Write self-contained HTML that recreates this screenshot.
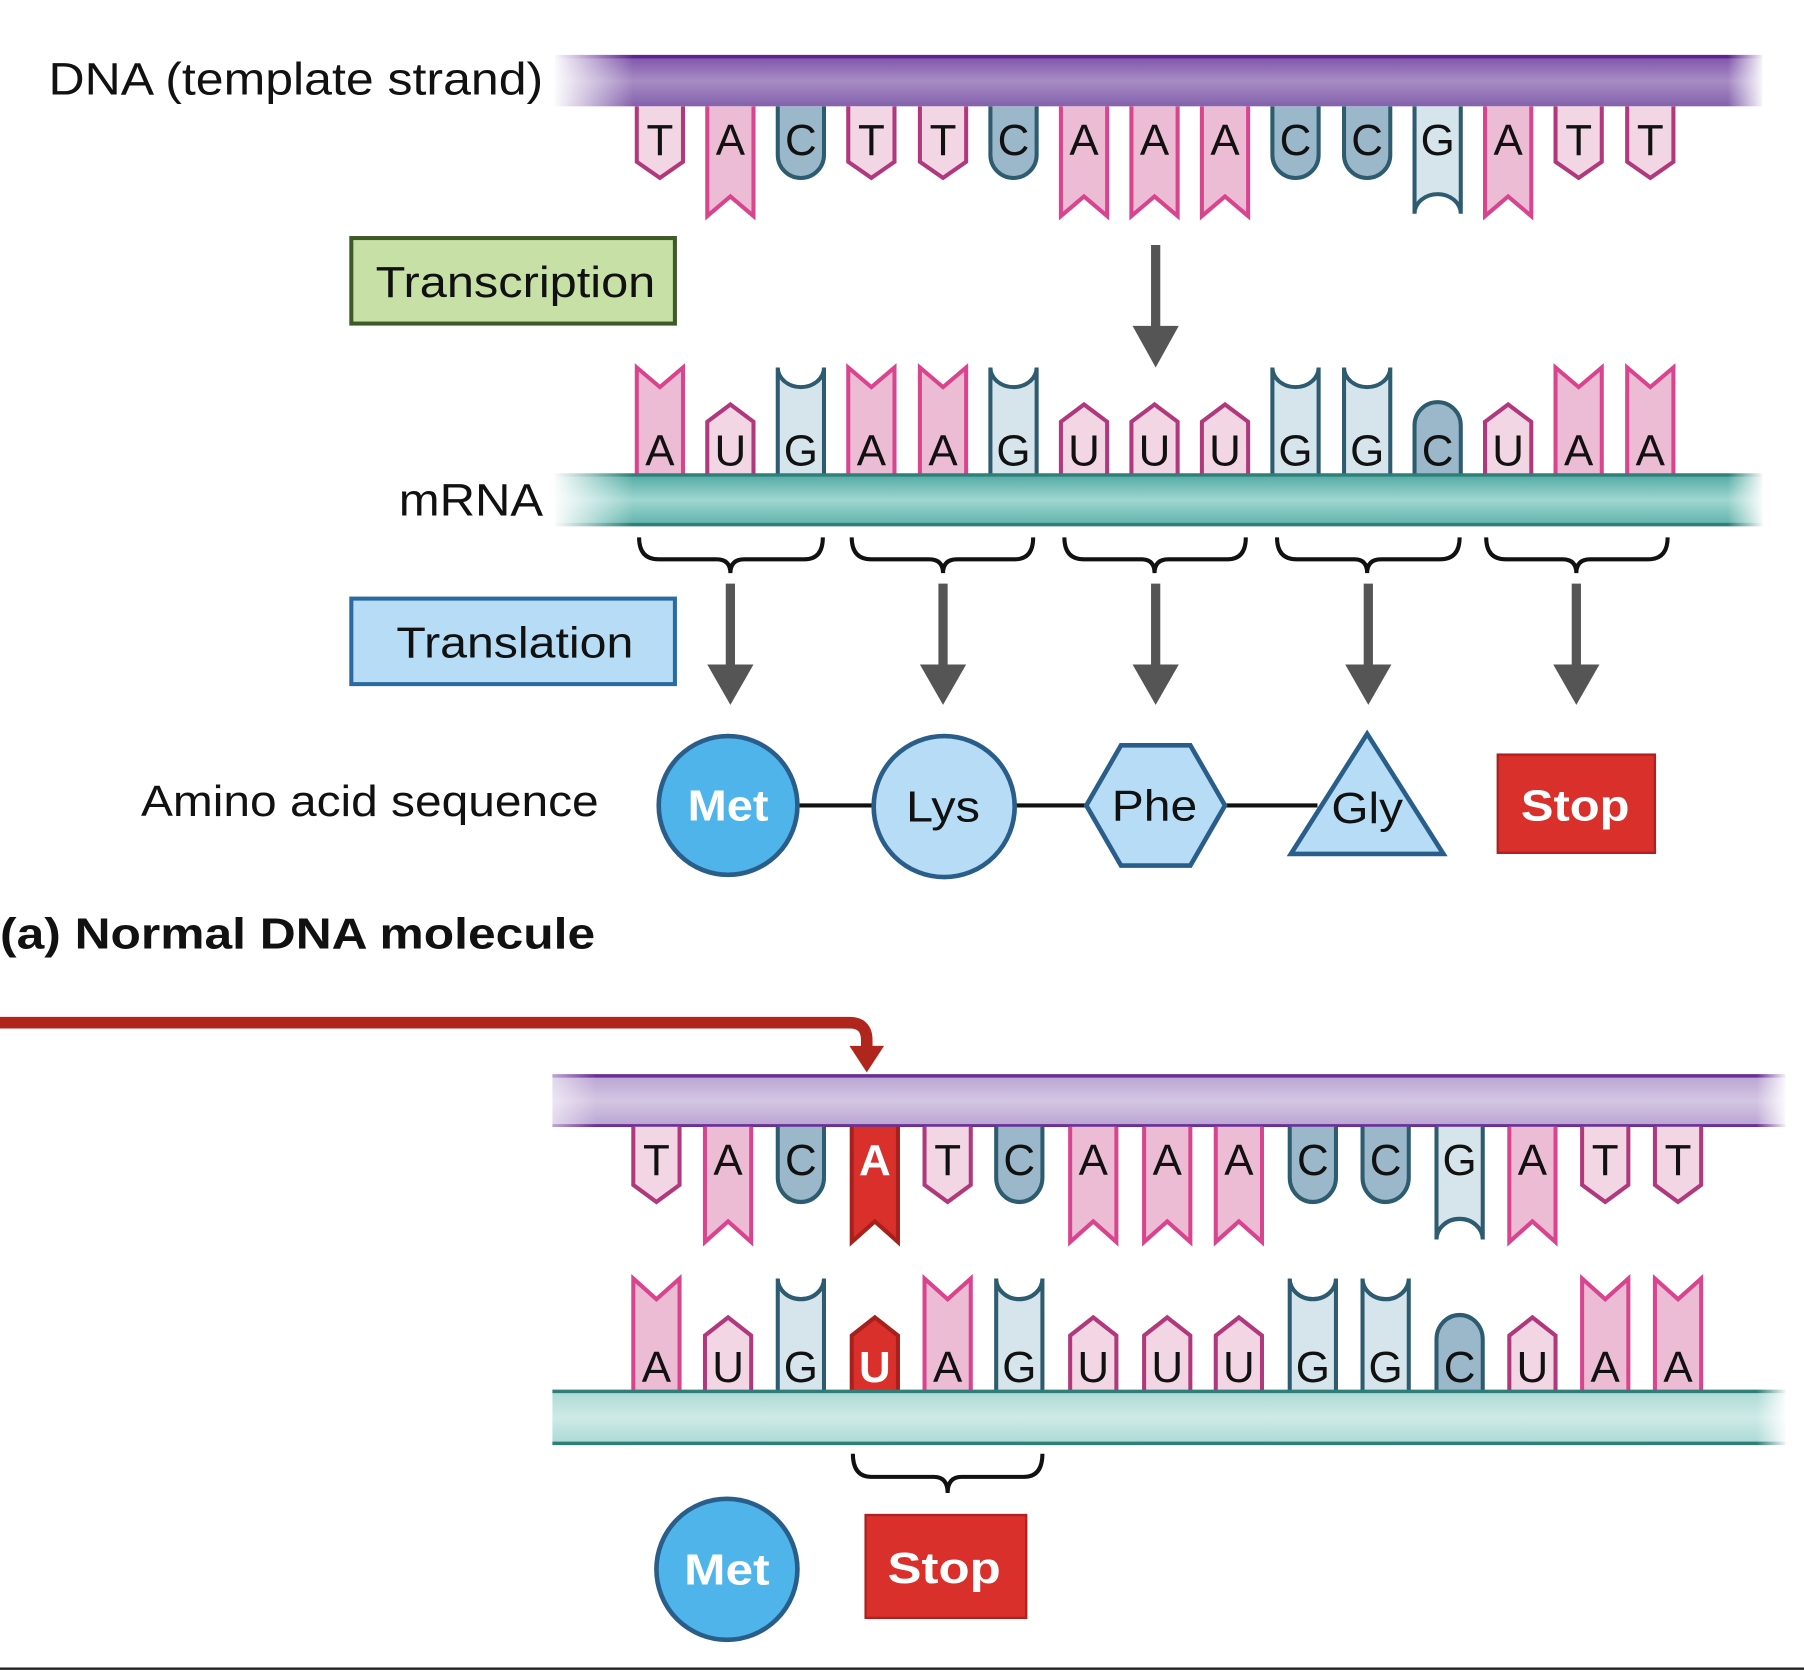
<!DOCTYPE html>
<html><head><meta charset="utf-8"><style>
html,body{margin:0;padding:0;background:#fff;}
svg{display:block;}
text{font-family:"Liberation Sans",sans-serif;}
</style></head><body>
<svg width="1804" height="1671" viewBox="0 0 1561 1446" preserveAspectRatio="none" xmlns="http://www.w3.org/2000/svg">
<defs>
<linearGradient id="pv" x1="0" y1="0" x2="0" y2="1"><stop offset="0" stop-color="#7d52a8"/><stop offset="0.5" stop-color="#a78cc4"/><stop offset="1" stop-color="#8462ad"/></linearGradient>
<linearGradient id="pv2" x1="0" y1="0" x2="0" y2="1"><stop offset="0" stop-color="#b9a3d2"/><stop offset="0.5" stop-color="#d4c6e3"/><stop offset="1" stop-color="#b9a3d2"/></linearGradient>
<linearGradient id="tv" x1="0" y1="0" x2="0" y2="1"><stop offset="0" stop-color="#4fa9a2"/><stop offset="0.5" stop-color="#9fd6d0"/><stop offset="1" stop-color="#5db2aa"/></linearGradient>
<linearGradient id="tv2" x1="0" y1="0" x2="0" y2="1"><stop offset="0" stop-color="#a9d9d4"/><stop offset="0.5" stop-color="#cfeae7"/><stop offset="1" stop-color="#a9d9d4"/></linearGradient>
<linearGradient id="fadeL" x1="0" y1="0" x2="1" y2="0"><stop offset="0" stop-color="#fff" stop-opacity="1"/><stop offset="1" stop-color="#fff" stop-opacity="0"/></linearGradient>
<linearGradient id="fadeR" x1="0" y1="0" x2="1" y2="0"><stop offset="0" stop-color="#fff" stop-opacity="0"/><stop offset="1" stop-color="#fff" stop-opacity="1"/></linearGradient>
<g id="Td"><path d="M-20,0 V48 L0,62 L20,48 V0" fill="#f3d6e3" stroke="#b0387c" stroke-width="3.5"/></g>
<g id="Ad"><path d="M-20,0 V95 L0,78 L20,95 V0" fill="#ecbcd4" stroke="#d9448f" stroke-width="3.5"/></g>
<g id="Cd"><path d="M-20,0 V42 A20,20 0 0 0 20,42 V0" fill="#9bb8ca" stroke="#2d5b6f" stroke-width="3.5"/></g>
<g id="Gd"><path d="M-20,0 V93 A20,17 0 0 1 20,93 V0" fill="#d6e4eb" stroke="#2d5b6f" stroke-width="3.5"/></g>
<g id="Ar"><path d="M-20,0 V95 L0,78 L20,95 V0" fill="#d9302c" stroke="#a8201c" stroke-width="3.5"/></g>
<g id="Au"><path d="M-20,0 V-92 L0,-75 L20,-92 V0" fill="#ecbcd4" stroke="#d9448f" stroke-width="3.5"/></g>
<g id="Uu"><path d="M-20,0 V-45 L0,-60 L20,-45 V0" fill="#f3d6e3" stroke="#b0387c" stroke-width="3.5"/></g>
<g id="Gu"><path d="M-20,0 V-92 A20,17 0 0 0 20,-92 V0" fill="#d6e4eb" stroke="#2d5b6f" stroke-width="3.5"/></g>
<g id="Cu"><path d="M-20,0 V-42 A20,20 0 0 1 20,-42 V0" fill="#9bb8ca" stroke="#2d5b6f" stroke-width="3.5"/></g>
<g id="Ur"><path d="M-20,0 V-45 L0,-60 L20,-45 V0" fill="#d9302c" stroke="#a8201c" stroke-width="3.5"/></g>
</defs>

<!-- TOP DNA bar -->
<rect x="480" y="48" width="1045" height="44" fill="url(#pv)"/>
<line x1="480" y1="49" x2="1525" y2="49" stroke="#5e2590" stroke-width="3"/>
<rect x="478" y="46" width="70" height="48" fill="url(#fadeL)"/>
<rect x="1495" y="46" width="32" height="48" fill="url(#fadeR)"/>

<g transform="translate(0,92)">
<use href="#Td" x="571"/><use href="#Ad" x="632"/><use href="#Cd" x="693"/><use href="#Td" x="754"/><use href="#Td" x="816"/><use href="#Cd" x="877"/><use href="#Ad" x="938"/><use href="#Ad" x="999"/><use href="#Ad" x="1060"/><use href="#Cd" x="1121"/><use href="#Cd" x="1183"/><use href="#Gd" x="1244"/><use href="#Ad" x="1305"/><use href="#Td" x="1366"/><use href="#Td" x="1428"/>
</g>
<g font-size="38" text-anchor="middle" fill="#111">
<text x="571" y="134">T</text><text x="632" y="134">A</text><text x="693" y="134">C</text><text x="754" y="134">T</text><text x="816" y="134">T</text><text x="877" y="134">C</text><text x="938" y="134">A</text><text x="999" y="134">A</text><text x="1060" y="134">A</text><text x="1121" y="134">C</text><text x="1183" y="134">C</text><text x="1244" y="134">G</text><text x="1305" y="134">A</text><text x="1366" y="134">T</text><text x="1428" y="134">T</text>
</g>

<text x="42" y="82" font-size="39" fill="#111" textLength="428" lengthAdjust="spacingAndGlyphs">DNA (template strand)</text>

<rect x="304" y="206" width="280" height="74" fill="#c6e0a6" stroke="#3d5a28" stroke-width="3.5"/>
<text x="325" y="257" font-size="38" fill="#111" textLength="242" lengthAdjust="spacingAndGlyphs">Transcription</text>
<line x1="1000" y1="212" x2="1000" y2="285" stroke="#555" stroke-width="8"/>
<polygon points="980,282 1020,282 1000,318" fill="#555"/>

<g transform="translate(0,410)">
<use href="#Au" x="571"/><use href="#Uu" x="632"/><use href="#Gu" x="693"/><use href="#Au" x="754"/><use href="#Au" x="816"/><use href="#Gu" x="877"/><use href="#Uu" x="938"/><use href="#Uu" x="999"/><use href="#Uu" x="1060"/><use href="#Gu" x="1121"/><use href="#Gu" x="1183"/><use href="#Cu" x="1244"/><use href="#Uu" x="1305"/><use href="#Au" x="1366"/><use href="#Au" x="1428"/>
</g>
<g font-size="38" text-anchor="middle" fill="#111">
<text x="571" y="403">A</text><text x="632" y="403">U</text><text x="693" y="403">G</text><text x="754" y="403">A</text><text x="816" y="403">A</text><text x="877" y="403">G</text><text x="938" y="403">U</text><text x="999" y="403">U</text><text x="1060" y="403">U</text><text x="1121" y="403">G</text><text x="1183" y="403">G</text><text x="1244" y="403">C</text><text x="1305" y="403">U</text><text x="1366" y="403">A</text><text x="1428" y="403">A</text>
</g>
<rect x="480" y="410" width="1045" height="45" fill="url(#tv)"/>
<line x1="480" y1="411" x2="1525" y2="411" stroke="#2f7f78" stroke-width="3"/>
<line x1="480" y1="454" x2="1525" y2="454" stroke="#2f7f78" stroke-width="3"/>
<rect x="478" y="408" width="70" height="49" fill="url(#fadeL)"/>
<rect x="1495" y="408" width="32" height="49" fill="url(#fadeR)"/>
<text x="345" y="446" font-size="39" fill="#111" textLength="125" lengthAdjust="spacingAndGlyphs">mRNA</text>

<g fill="none" stroke="#111" stroke-width="3.5">
<path d="M553,465 Q553,484 570,484 H620 Q632,484 632,496 Q632,484 644,484 H696 Q712,484 712,465"/>
<path d="M737,465 Q737,484 754,484 H804 Q816,484 816,496 Q816,484 828,484 H878 Q894,484 894,465"/>
<path d="M921,465 Q921,484 938,484 H988 Q999,484 999,496 Q999,484 1011,484 H1062 Q1078,484 1078,465"/>
<path d="M1105,465 Q1105,484 1122,484 H1172 Q1183,484 1183,496 Q1183,484 1195,484 H1246 Q1263,484 1263,465"/>
<path d="M1286,465 Q1286,484 1303,484 H1352 Q1364,484 1364,496 Q1364,484 1376,484 H1426 Q1443,484 1443,465"/>
</g>
<g stroke="#555" stroke-width="8">
<line x1="632" y1="505" x2="632" y2="578"/><line x1="816" y1="505" x2="816" y2="578"/><line x1="1000" y1="505" x2="1000" y2="578"/><line x1="1184" y1="505" x2="1184" y2="578"/><line x1="1364" y1="505" x2="1364" y2="578"/>
</g>
<g fill="#555">
<polygon points="612,575 652,575 632,610"/><polygon points="796,575 836,575 816,610"/><polygon points="980,575 1020,575 1000,610"/><polygon points="1164,575 1204,575 1184,610"/><polygon points="1344,575 1384,575 1364,610"/>
</g>

<rect x="304" y="518" width="280" height="74" fill="#b7dcf5" stroke="#2a6aa0" stroke-width="3.5"/>
<text x="343" y="569" font-size="38" fill="#111" textLength="205" lengthAdjust="spacingAndGlyphs">Translation</text>

<text x="122" y="706" font-size="38" fill="#111" textLength="396" lengthAdjust="spacingAndGlyphs">Amino acid sequence</text>

<line x1="690" y1="697" x2="1140" y2="697" stroke="#111" stroke-width="3.5"/>
<circle cx="630" cy="697" r="60" fill="#4fb4ea" stroke="#2a5e8a" stroke-width="4"/>
<text x="595" y="710" font-size="38" font-weight="bold" fill="#fff" textLength="70" lengthAdjust="spacingAndGlyphs">Met</text>
<circle cx="817" cy="698" r="61" fill="#b7dcf5" stroke="#2a5e8a" stroke-width="4"/>
<text x="784" y="711" font-size="38" fill="#111" textLength="64" lengthAdjust="spacingAndGlyphs">Lys</text>
<polygon points="940,697 970,645 1030,645 1060,697 1030,749 970,749" fill="#b7dcf5" stroke="#2a5e8a" stroke-width="4"/>
<text x="962" y="710" font-size="38" fill="#111" textLength="74" lengthAdjust="spacingAndGlyphs">Phe</text>
<polygon points="1183,635 1249,739 1117,739" fill="#b7dcf5" stroke="#2a5e8a" stroke-width="4"/>
<text x="1152" y="712" font-size="38" fill="#111" textLength="62" lengthAdjust="spacingAndGlyphs">Gly</text>
<rect x="1296" y="653" width="136" height="85" fill="#d9302c" stroke="#b02020" stroke-width="2"/>
<text x="1316" y="710" font-size="38" font-weight="bold" fill="#fff" textLength="94" lengthAdjust="spacingAndGlyphs">Stop</text>

<text x="0" y="821" font-size="38" font-weight="bold" fill="#111" textLength="515" lengthAdjust="spacingAndGlyphs">(a) Normal DNA molecule</text>

<path d="M0,885 H735 Q750,885 750,900 V910" fill="none" stroke="#b1261c" stroke-width="10"/>
<polygon points="735,905 765,905 750,928" fill="#b1261c"/>

<rect x="478" y="930" width="1067" height="45" fill="url(#pv2)"/>
<line x1="478" y1="931" x2="1545" y2="931" stroke="#6a2f98" stroke-width="3"/>
<line x1="478" y1="974" x2="1545" y2="974" stroke="#6a2f98" stroke-width="2.5"/>
<rect x="476" y="928" width="40" height="49" fill="url(#fadeL)" opacity="0.6"/>
<rect x="1520" y="928" width="27" height="49" fill="url(#fadeR)"/>
<g transform="translate(0,975) scale(1,1.05)">
<use href="#Td" x="568"/><use href="#Ad" x="630"/><use href="#Cd" x="693"/><use href="#Ar" x="757"/><use href="#Td" x="820"/><use href="#Cd" x="882"/><use href="#Ad" x="946"/><use href="#Ad" x="1010"/><use href="#Ad" x="1072"/><use href="#Cd" x="1136"/><use href="#Cd" x="1199"/><use href="#Gd" x="1263"/><use href="#Ad" x="1326"/><use href="#Td" x="1389"/><use href="#Td" x="1452"/>
</g>
<g font-size="38" text-anchor="middle" fill="#111">
<text x="568" y="1017">T</text><text x="630" y="1017">A</text><text x="693" y="1017">C</text><text x="757" y="1017" fill="#fff" font-weight="bold">A</text><text x="820" y="1017">T</text><text x="882" y="1017">C</text><text x="946" y="1017">A</text><text x="1010" y="1017">A</text><text x="1072" y="1017">A</text><text x="1136" y="1017">C</text><text x="1199" y="1017">C</text><text x="1263" y="1017">G</text><text x="1326" y="1017">A</text><text x="1389" y="1017">T</text><text x="1452" y="1017">T</text>
</g>

<g transform="translate(0,1203) scale(1,1.05)">
<use href="#Au" x="568"/><use href="#Uu" x="630"/><use href="#Gu" x="693"/><use href="#Ur" x="757"/><use href="#Au" x="820"/><use href="#Gu" x="882"/><use href="#Uu" x="946"/><use href="#Uu" x="1010"/><use href="#Uu" x="1072"/><use href="#Gu" x="1136"/><use href="#Gu" x="1199"/><use href="#Cu" x="1263"/><use href="#Uu" x="1326"/><use href="#Au" x="1389"/><use href="#Au" x="1452"/>
</g>
<g font-size="38" text-anchor="middle" fill="#111">
<text x="568" y="1196">A</text><text x="630" y="1196">U</text><text x="693" y="1196">G</text><text x="757" y="1196" fill="#fff" font-weight="bold">U</text><text x="820" y="1196">A</text><text x="882" y="1196">G</text><text x="946" y="1196">U</text><text x="1010" y="1196">U</text><text x="1072" y="1196">U</text><text x="1136" y="1196">G</text><text x="1199" y="1196">G</text><text x="1263" y="1196">C</text><text x="1326" y="1196">U</text><text x="1389" y="1196">A</text><text x="1452" y="1196">A</text>
</g>
<rect x="478" y="1203" width="1067" height="47" fill="url(#tv2)"/>
<line x1="478" y1="1204" x2="1545" y2="1204" stroke="#2f7f78" stroke-width="3"/>
<line x1="478" y1="1249" x2="1545" y2="1249" stroke="#2f7f78" stroke-width="3"/>
<rect x="1520" y="1201" width="27" height="51" fill="url(#fadeR)"/>

<path d="M738,1258 Q738,1278 754,1278 H808 Q820,1278 820,1292 Q820,1278 832,1278 H886 Q902,1278 902,1258" fill="none" stroke="#111" stroke-width="3.5"/>

<circle cx="629" cy="1358" r="61" fill="#4fb4ea" stroke="#2a5e8a" stroke-width="4"/>
<text x="592" y="1371" font-size="38" font-weight="bold" fill="#fff" textLength="74" lengthAdjust="spacingAndGlyphs">Met</text>
<rect x="749" y="1311" width="139" height="89" fill="#d9302c" stroke="#b02020" stroke-width="2"/>
<text x="768" y="1370" font-size="38" font-weight="bold" fill="#fff" textLength="98" lengthAdjust="spacingAndGlyphs">Stop</text>

<line x1="0" y1="1444" x2="1561" y2="1444" stroke="#222" stroke-width="2"/>
</svg>
</body></html>
